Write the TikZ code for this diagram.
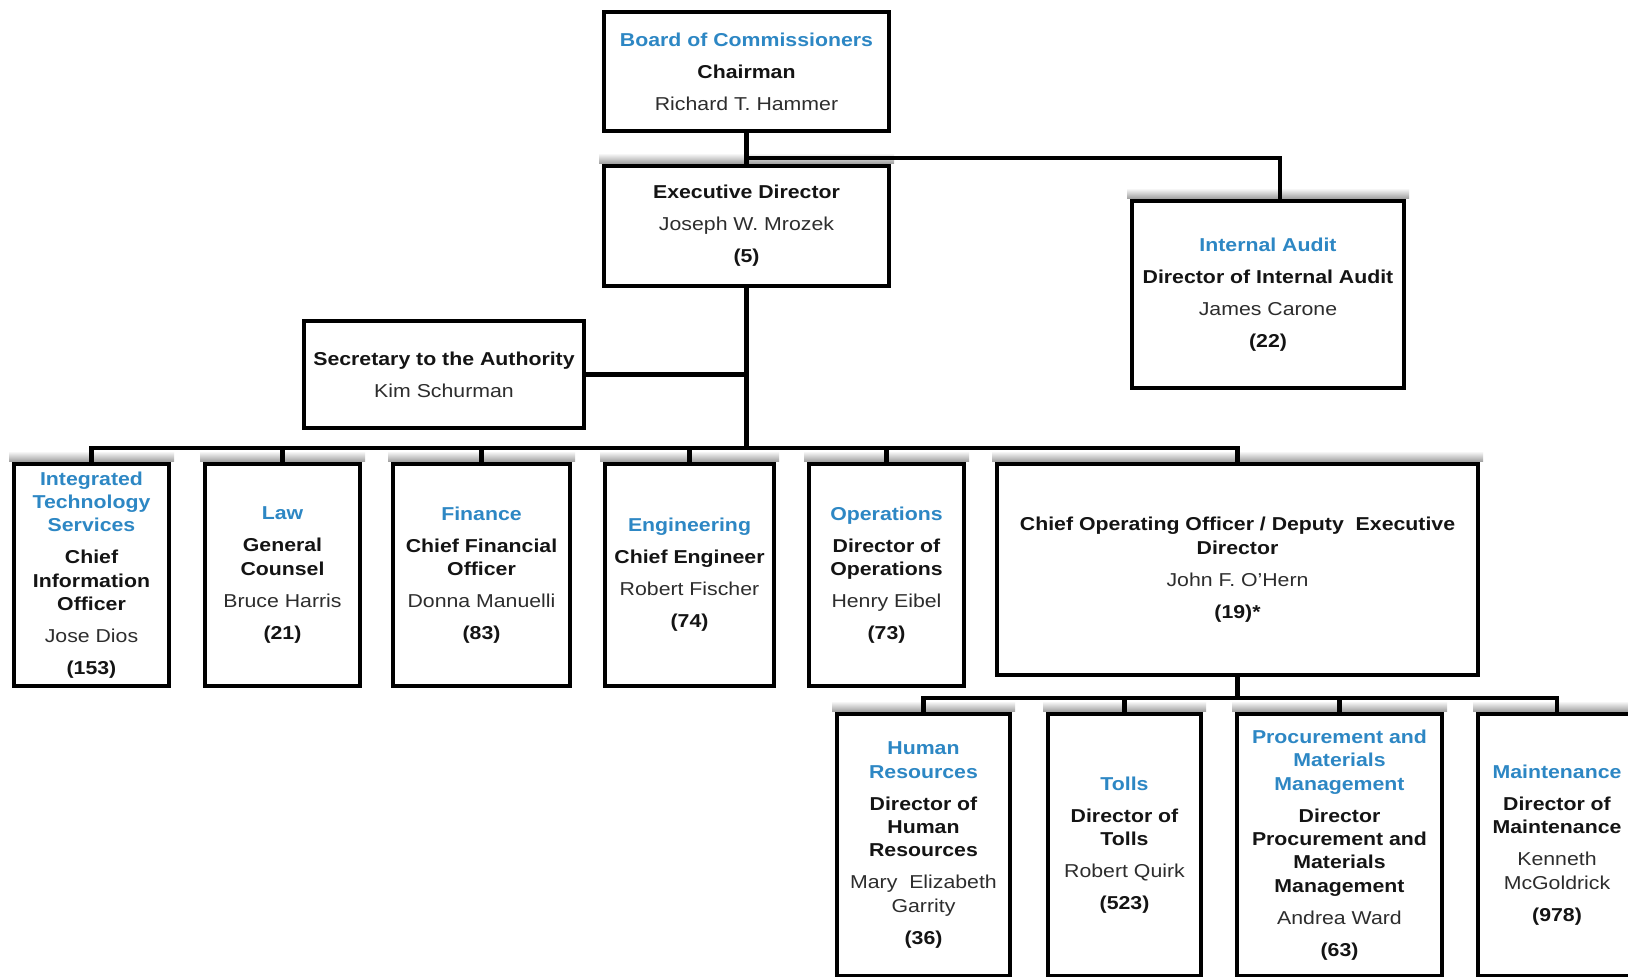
\documentclass[tikz,border=0pt]{standalone}
\usepackage{fontspec}
\setmainfont{Liberation Sans}[FakeStretch=1.14]
\definecolor{deptblue}{RGB}{45,135,196}
\definecolor{nametext}{RGB}{45,45,45}
\definecolor{titletext}{RGB}{20,20,20}
\newcommand\Bd[1]{\textcolor{deptblue}{\bfseries #1}}
\newcommand\Tt[1]{\textcolor{titletext}{\bfseries #1}}
\newcommand\Nm[1]{\textcolor{nametext}{#1}}
\newcommand\gp{\\[6.5pt]}
\begin{document}
\begin{tikzpicture}[x=0.75pt,y=-0.75pt,
  bx/.style n args={2}{draw=black, line width=3.5pt, fill=white, align=center,
    inner sep=2pt, minimum width=#1, minimum height=#2,
    font=\fontsize{14}{17.5}\selectfont},
  shd/.style={top color=white, bottom color=black!38},
  conn/.style={draw=black, line width=3.7pt, line join=miter}]
\path[use as bounding box, clip] (0,0) rectangle (1628,976);
\fill[white] (0,0) rectangle (1628,976);

% top level
\node[bx={213.75pt}{89.25pt}] (board) at (746.5,71.5)
  {\Bd{Board of Commissioners}\gp\Tt{Chairman}\gp\Nm{Richard T. Hammer}};
\node[bx={213.75pt}{90pt}] (exec) at (746.5,226)
  {\Tt{Executive Director}\gp\Nm{Joseph W. Mrozek}\gp\Tt{(5)}};
\node[bx={204pt}{140.25pt}] (audit) at (1268,294.5)
  {\Bd{Internal Audit}\gp\Tt{Director of Internal Audit}\gp\Nm{James Carone}\gp\Tt{(22)}};
\node[bx={210pt}{80.25pt}] (sec) at (444,374.5)
  {\Tt{Secretary to the Authority}\gp\Nm{Kim Schurman}};

% second row
\node[bx={116.25pt}{166.5pt}] (its) at (91.5,575)
  {\Bd{Integrated}\\\Bd{Technology}\\\Bd{Services}\gp\Tt{Chief}\\\Tt{Information}\\\Tt{Officer}\gp\Nm{Jose Dios}\gp\Tt{(153)}};
\node[bx={116.25pt}{166.5pt}] (law) at (282.5,575)
  {\Bd{Law}\gp\Tt{General}\\\Tt{Counsel}\gp\Nm{Bruce Harris}\gp\Tt{(21)}};
\node[bx={132.75pt}{166.5pt}] (fin) at (481.5,575)
  {\Bd{Finance}\gp\Tt{Chief Financial}\\\Tt{Officer}\gp\Nm{Donna Manuelli}\gp\Tt{(83)}};
\node[bx={126.75pt}{166.5pt}] (eng) at (689.5,575)
  {\Bd{Engineering}\gp\Tt{Chief Engineer}\gp\Nm{Robert Fischer}\gp\Tt{(74)}};
\node[bx={116.25pt}{166.5pt}] (ops) at (886.5,575)
  {\Bd{Operations}\gp\Tt{Director of}\\\Tt{Operations}\gp\Nm{Henry Eibel}\gp\Tt{(73)}};
\node[bx={360.75pt}{158.25pt}] (coo) at (1237.5,569.5)
  {\Tt{Chief Operating Officer / Deputy\ \ Executive}\\\Tt{Director}\gp\Nm{John F. O'Hern}\gp\Tt{(19)*}};

% third row
\node[bx={129.75pt}{196.5pt}] (hr) at (923.5,845)
  {\Bd{Human}\\\Bd{Resources}\gp\Tt{Director of}\\\Tt{Human}\\\Tt{Resources}\gp\Nm{Mary\ \ Elizabeth}\\\Nm{Garrity}\gp\Tt{(36)}};
\node[bx={114.75pt}{196.5pt}] (tolls) at (1124.5,845)
  {\Bd{Tolls}\gp\Tt{Director of}\\\Tt{Tolls}\gp\Nm{Robert Quirk}\gp\Tt{(523)}};
\node[bx={153.75pt}{196.5pt}] (proc) at (1339.5,845)
  {\Bd{Procurement and}\\\Bd{Materials}\\\Bd{Management}\gp\Tt{Director}\\\Tt{Procurement and}\\\Tt{Materials}\\\Tt{Management}\gp\Nm{Andrea Ward}\gp\Tt{(63)}};
\node[bx={118.5pt}{196.5pt}] (mnt) at (1557,845)
  {\Bd{Maintenance}\gp\Tt{Director of}\\\Tt{Maintenance}\gp\Nm{Kenneth}\\\Nm{McGoldrick}\gp\Tt{(978)}};

% soft shadows above the boxes
\foreach \n in {exec,audit,its,law,fin,eng,ops,coo,hr,tolls,proc,mnt}
  \shade[shd] ([xshift=-2pt]\n.north west) rectangle ([xshift=2pt,yshift=8pt]\n.north east);

% junction coordinates
\coordinate (j1) at (746.5,158);
\coordinate (ja) at (1280,158);
\coordinate (bus) at (746.5,448);
\coordinate (bus2) at (1237.5,698);

% connectors
\draw[conn] (board.south) -- (exec.north);
\draw[conn] (j1) -- (ja) -- (ja |- audit.north);
\draw[conn] (exec.south) -- (bus);
\draw[conn] (sec.east) -- (sec.east -| bus);
\draw[conn] (its.north) -- (its.north |- bus) -- (coo.north |- bus) -- (coo.north);
\draw[conn] (law.north) -- (law.north |- bus);
\draw[conn] (fin.north) -- (fin.north |- bus);
\draw[conn] (eng.north) -- (eng.north |- bus);
\draw[conn] (ops.north) -- (ops.north |- bus);
\draw[conn] (coo.south) -- (bus2);
\draw[conn] (hr.north) -- (hr.north |- bus2) -- (mnt.north |- bus2) -- (mnt.north);
\draw[conn] (tolls.north) -- (tolls.north |- bus2);
\draw[conn] (proc.north) -- (proc.north |- bus2);
\end{tikzpicture}
\end{document}
